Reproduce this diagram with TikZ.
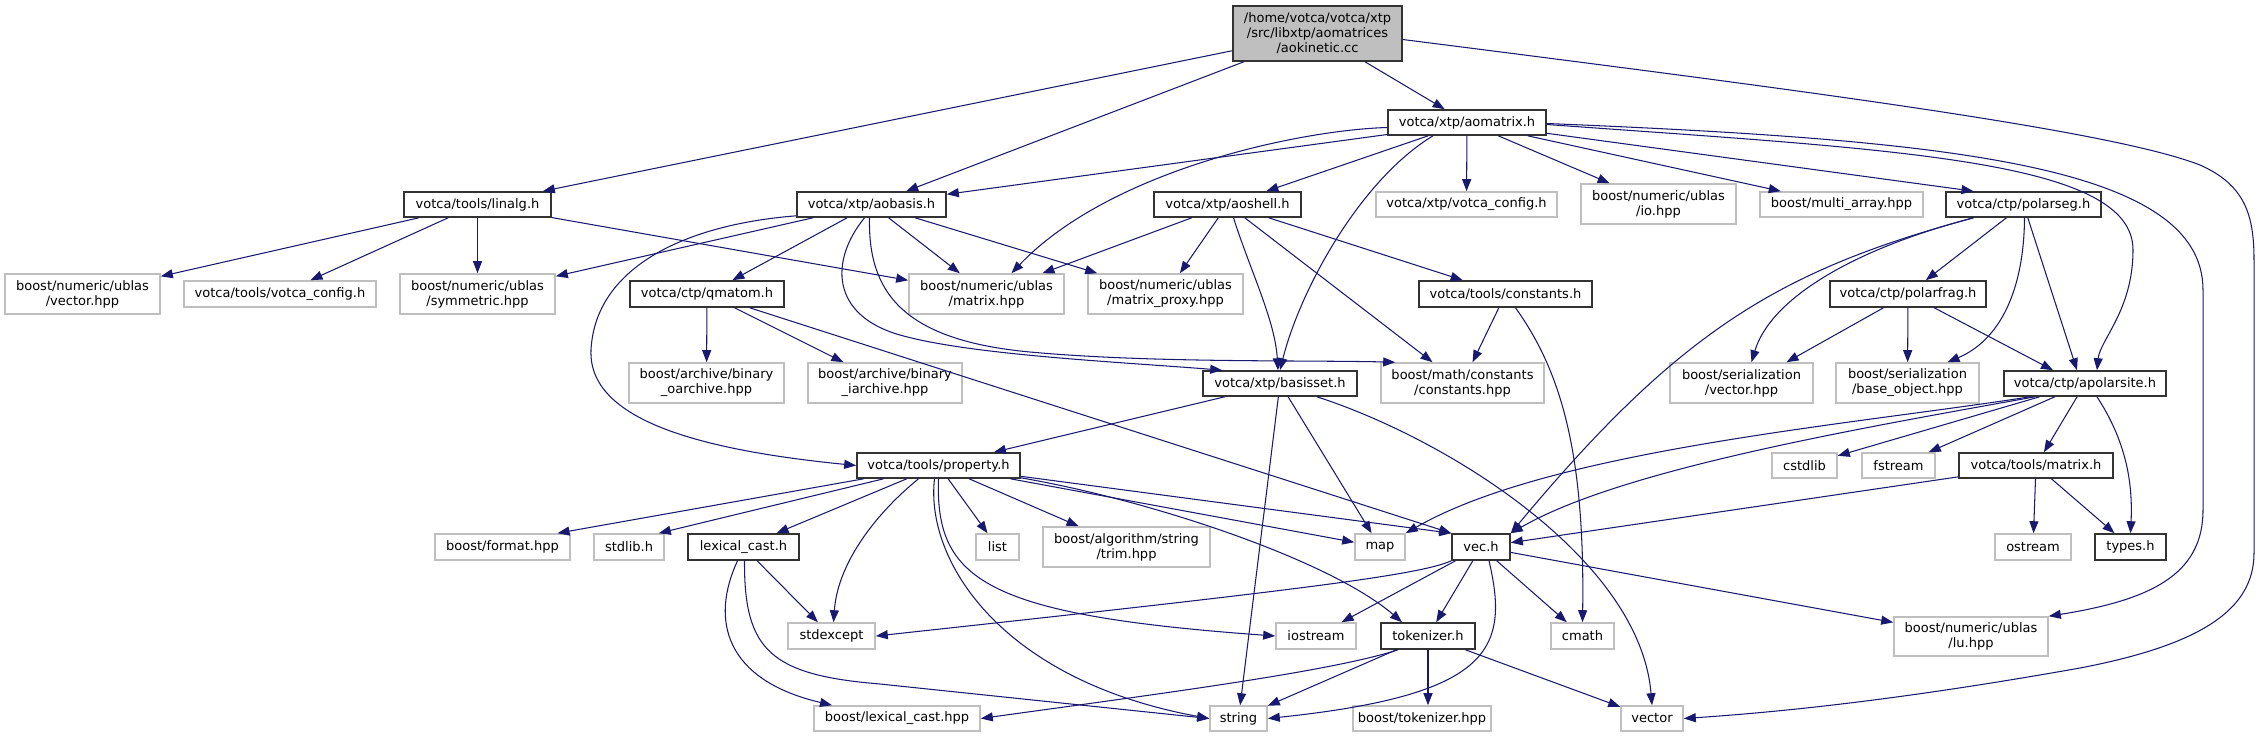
\documentclass[tikz,border=0pt]{standalone}
\usepackage{fontspec}
\setmainfont{DejaVu Sans}
\usetikzlibrary{arrows.meta}
\definecolor{edgec}{HTML}{191970}
\definecolor{grayb}{HTML}{BFBFBF}
\definecolor{rootf}{HTML}{BFBFBF}
\definecolor{darkb}{HTML}{333333}
\begin{document}
\begin{tikzpicture}[x=1pt,y=-1pt,
  base/.style={rectangle, inner sep=0pt, align=center, font=\fontsize{13}{15}\selectfont, line width=1.6pt},
  nb/.style={base, draw=darkb, fill=white},
  ng/.style={base, draw=grayb, fill=white},
  nr/.style={base, draw=darkb, fill=rootf},
  sz/.style 2 args={minimum width=#1pt, minimum height=#2pt},
  lk/.style={draw=edgec, line width=1.05pt, -{Triangle[length=12pt,width=9pt]}},
]
\fill[white] (0,0) rectangle (2260,737);
\useasboundingbox (0,0) rectangle (2260,737);

% nodes
\node[nr, sz={169}{55}] (aokin) at (1317.5,33.5) {/home/votca/votca/xtp\\/src/libxtp/aomatrices\\/aokinetic.cc};
\node[nb, sz={158}{25}] (aomatrix) at (1467,122.5) {votca/xtp/aomatrix.h};
\node[nb, sz={147}{25}] (linalg) at (477.5,204.5) {votca/tools/linalg.h};
\node[nb, sz={149}{25}] (aobasis) at (871.5,204.5) {votca/xtp/aobasis.h};
\node[nb, sz={147}{25}] (aoshell) at (1227.5,204.5) {votca/xtp/aoshell.h};
\node[ng, sz={181}{25}] (xtpconfig) at (1466.5,204.5) {votca/xtp/votca\_config.h};
\node[ng, sz={155}{40}] (iohpp) at (1658.5,204) {boost/numeric/ublas\\/io.hpp};
\node[ng, sz={163}{25}] (multiarray) at (1841.5,204.5) {boost/multi\_array.hpp};
\node[nb, sz={155}{25}] (polarseg) at (2023.5,204.5) {votca/ctp/polarseg.h};
\node[ng, sz={155}{40}] (vectorhpp) at (82.5,294) {boost/numeric/ublas\\/vector.hpp};
\node[ng, sz={192}{26}] (toolsconfig) at (280,294) {votca/tools/votca\_config.h};
\node[ng, sz={155}{40}] (symmetric) at (477.5,294) {boost/numeric/ublas\\/symmetric.hpp};
\node[nb, sz={154}{26}] (qmatom) at (707,294) {votca/ctp/qmatom.h};
\node[ng, sz={155}{40}] (matrixhpp) at (986.5,294) {boost/numeric/ublas\\/matrix.hpp};
\node[ng, sz={155}{40}] (matrixproxy) at (1165.5,294) {boost/numeric/ublas\\/matrix\_proxy.hpp};
\node[nb, sz={173}{26}] (constants) at (1505.5,294) {votca/tools/constants.h};
\node[nb, sz={156}{26}] (polarfrag) at (1908,294) {votca/ctp/polarfrag.h};
\node[ng, sz={155}{40}] (oarchive) at (706.5,383) {boost/archive/binary\\\_oarchive.hpp};
\node[ng, sz={154}{40}] (iarchive) at (885,383) {boost/archive/binary\\\_iarchive.hpp};
\node[nb, sz={154}{25}] (basisset) at (1280,383.5) {votca/xtp/basisset.h};
\node[ng, sz={163}{40}] (mathconst) at (1462.5,383) {boost/math/constants\\/constants.hpp};
\node[ng, sz={143}{40}] (servector) at (1741.5,383) {boost/serialization\\/vector.hpp};
\node[ng, sz={143}{40}] (baseobject) at (1907.5,383) {boost/serialization\\/base\_object.hpp};
\node[nb, sz={162}{25}] (apolarsite) at (2085,383.5) {votca/ctp/apolarsite.h};
\node[nb, sz={163}{25}] (property) at (938.5,465.5) {votca/tools/property.h};
\node[ng, sz={65}{25}] (cstdlib) at (1804.5,465.5) {cstdlib};
\node[ng, sz={73}{25}] (fstream) at (1898.5,465.5) {fstream};
\node[nb, sz={154}{25}] (toolsmatrix) at (2036,465.5) {votca/tools/matrix.h};
\node[ng, sz={135}{26}] (formathpp) at (502.5,547) {boost/format.hpp};
\node[ng, sz={70}{26}] (stdlibh) at (629,547) {stdlib.h};
\node[nb, sz={111}{26}] (lexicalcasth) at (743.5,547) {lexical\_cast.h};
\node[ng, sz={43}{26}] (list) at (997.5,547) {list};
\node[ng, sz={167}{40}] (trim) at (1126.5,547) {boost/algorithm/string\\/trim.hpp};
\node[ng, sz={50}{26}] (map) at (1380,547) {map};
\node[nb, sz={58}{26}] (vech) at (1481,547) {vec.h};
\node[ng, sz={76}{26}] (ostream) at (2033,547) {ostream};
\node[nb, sz={71}{26}] (typesh) at (2130.5,547) {types.h};
\node[ng, sz={87}{26}] (stdexcept) at (831.5,636) {stdexcept};
\node[ng, sz={80}{26}] (iostream) at (1316,636) {iostream};
\node[nb, sz={94}{26}] (tokenizer) at (1428,636) {tokenizer.h};
\node[ng, sz={63}{26}] (cmath) at (1582.5,636) {cmath};
\node[ng, sz={154}{39}] (luhpp) at (1971,636.5) {boost/numeric/ublas\\/lu.hpp};
\node[ng, sz={166}{25}] (lexicalcasthpp) at (897,718.5) {boost/lexical\_cast.hpp};
\node[ng, sz={57}{25}] (string) at (1238.5,718.5) {string};
\node[ng, sz={138}{25}] (tokenizerhpp) at (1422,718.5) {boost/tokenizer.hpp};
\node[ng, sz={62}{25}] (vector) at (1652,718.5) {vector};

% root
\draw[lk] (aokin) -- (linalg);
\draw[lk] (aokin) -- (aobasis);
\draw[lk] (aokin) -- (aomatrix);
\draw[lk] ([yshift=-6pt]aokin.east) .. controls (1800,90) and (2110,130) .. (2200,165) .. controls (2245,185) and (2254,215) .. (2254,260) -- (2254,553) .. controls (2254,610) and (2200,645) .. (2080,668) .. controls (1900,700) and (1780,712) .. (vector.east);

% aomatrix
\draw[lk] ([yshift=-12pt]aomatrix.west) -- (aobasis);
\draw[lk] ([yshift=-5pt]aomatrix.west) .. controls (1300,130) and (1110,170) .. ([xshift=25pt]matrixhpp.north);
\draw[lk] (aomatrix) -- (aoshell);
\draw[lk] ([xshift=-34pt]aomatrix.south) .. controls (1360,180) and (1300,290) .. (basisset.north);
\draw[lk] (aomatrix) -- (xtpconfig);
\draw[lk] (aomatrix) -- (iohpp);
\draw[lk] (aomatrix) -- (multiarray);
\draw[lk] (aomatrix) -- ([xshift=-50pt]polarseg.north);
\draw[lk] ([yshift=-2pt]aomatrix.east) .. controls (1900,150) and (2133,160) .. (2133,250) .. controls (2133,310) and (2100,340) .. ([xshift=12pt]apolarsite.north);
\draw[lk] ([yshift=-1pt]aomatrix.east) .. controls (1950,140) and (2203,165) .. (2203,290) -- (2203,510) .. controls (2203,575) and (2150,600) .. (luhpp.north east);

% linalg
\draw[lk] (linalg) -- (vectorhpp);
\draw[lk] (linalg) -- (toolsconfig);
\draw[lk] (linalg) -- (symmetric);
\draw[lk] (linalg) -- (matrixhpp);

% aobasis
\draw[lk] (aobasis) -- (symmetric);
\draw[lk] ([yshift=2pt]aobasis.south west) .. controls (680,225) and (595,270) .. (591,350) .. controls (588,420) and (700,450) .. (property.west);
\draw[lk] (aobasis) -- (qmatom);
\draw[lk] (aobasis) -- (matrixhpp);
\draw[lk] (aobasis) -- (matrixproxy);
\draw[lk] ([xshift=-7pt]aobasis.south) .. controls (830,260) and (830,315) .. (900,335) .. controls (970,355) and (1120,362) .. ([xshift=20pt]basisset.north west);
\draw[lk] ([xshift=-2pt]aobasis.south) .. controls (868,290) and (900,340) .. (1030,352) .. controls (1150,363) and (1300,360) .. ([xshift=15pt]mathconst.north west);

% aoshell
\draw[lk] (aoshell) -- (matrixhpp);
\draw[lk] (aoshell) -- (matrixproxy);
\draw[lk] ([xshift=6pt]aoshell.south) .. controls (1250,270) and (1275,320) .. ([xshift=-2pt]basisset.north);
\draw[lk] (aoshell) -- ([xshift=-30pt]mathconst.north);
\draw[lk] (aoshell) -- (constants);

% constants
\draw[lk] (constants) -- (mathconst);
\draw[lk] ([xshift=10pt]constants.south) .. controls (1560,370) and (1585,450) .. (cmath.north);

% polarseg
\draw[lk] ([xshift=-50pt]polarseg.south) .. controls (1780,270) and (1680,330) .. (vech.north east);
\draw[lk] ([xshift=-50pt]polarseg.south) .. controls (1850,250) and (1770,300) .. ([xshift=10pt]servector.north);
\draw[lk] (polarseg) -- (polarfrag);
\draw[lk] ([xshift=1pt]polarseg.south) .. controls (2024,290) and (2000,340) .. ([xshift=40pt]baseobject.north);
\draw[lk] (polarseg) -- ([xshift=-8pt]apolarsite.north);

% polarfrag
\draw[lk] (polarfrag) -- ([xshift=45pt]servector.north);
\draw[lk] (polarfrag) -- (baseobject);
\draw[lk] (polarfrag) -- ([xshift=-32pt]apolarsite.north);

% qmatom
\draw[lk] (qmatom) -- (oarchive);
\draw[lk] (qmatom) -- (iarchive);
\draw[lk] (qmatom) -- (vech.north west);

% basisset
\draw[lk] (basisset) -- (property);
\draw[lk] (basisset) -- (string);
\draw[lk] (basisset) -- (map);
\draw[lk] ([xshift=37pt]basisset.south) .. controls (1450,440) and (1640,560) .. (vector.north);

% apolarsite
\draw[lk] ([xshift=-55pt]apolarsite.south) .. controls (1850,425) and (1550,450) .. (map.north east);
\draw[lk] ([xshift=-50pt]apolarsite.south) .. controls (1850,430) and (1620,470) .. (vech.north east);
\draw[lk] (apolarsite) -- (cstdlib);
\draw[lk] (apolarsite) -- (fstream);
\draw[lk] (apolarsite) -- (toolsmatrix);
\draw[lk] ([xshift=12pt]apolarsite.south) .. controls (2125,440) and (2133,480) .. (typesh.north);

% tools matrix
\draw[lk] (toolsmatrix) -- (vech);
\draw[lk] (toolsmatrix) -- (ostream);
\draw[lk] (toolsmatrix) -- (typesh);

% property
\draw[lk] (property) -- ([xshift=55pt]formathpp.north);
\draw[lk] (property) -- ([xshift=-6pt]stdlibh.north east);
\draw[lk] (property) -- (lexicalcasth);
\draw[lk] ([xshift=-20pt]property.south) .. controls (880,510) and (838,560) .. ([xshift=2pt]stdexcept.north);
\draw[lk] ([xshift=-4pt]property.south) .. controls (925,560) and (1000,680) .. (string.west);
\draw[lk] (property.south) .. controls (935,580) and (985,615) .. (iostream.west);
\draw[lk] (property) -- (list);
\draw[lk] (property) -- (trim);
\draw[lk] (property) -- (map);
\draw[lk] (property) -- (vech.north west);
\draw[lk] ([yshift=1pt]property.south east) .. controls (1150,500) and (1330,560) .. ([xshift=-26pt]tokenizer.north);

% lexical_cast.h
\draw[lk] (lexicalcasth) -- (stdexcept);
\draw[lk] ([xshift=-6pt]lexicalcasth.south) .. controls (710,620) and (725,680) .. ([xshift=-65pt]lexicalcasthpp.north);
\draw[lk] ([xshift=1pt]lexicalcasth.south) .. controls (744,650) and (770,675) .. (880,684) -- (string.west);

% vec.h
\draw[lk] (vech.south west) .. controls (1420,575) and (1300,590) .. (stdexcept.east);
\draw[lk] (vech) -- (iostream);
\draw[lk] (vech) -- (tokenizer);
\draw[lk] ([xshift=8pt]vech.south) .. controls (1510,650) and (1490,695) .. (string.east);
\draw[lk] (vech) -- (cmath);
\draw[lk] (vech) -- (luhpp);

% tokenizer.h
\draw[lk] ([xshift=-30pt]tokenizer.south) .. controls (1330,672) and (1150,695) .. (lexicalcasthpp.east);
\draw[lk] (tokenizer) -- (string);
\draw[lk] (tokenizer.south) -- ([xshift=6pt]tokenizerhpp.north);
\draw[lk] (tokenizer) -- (vector);
\end{tikzpicture}
\end{document}
